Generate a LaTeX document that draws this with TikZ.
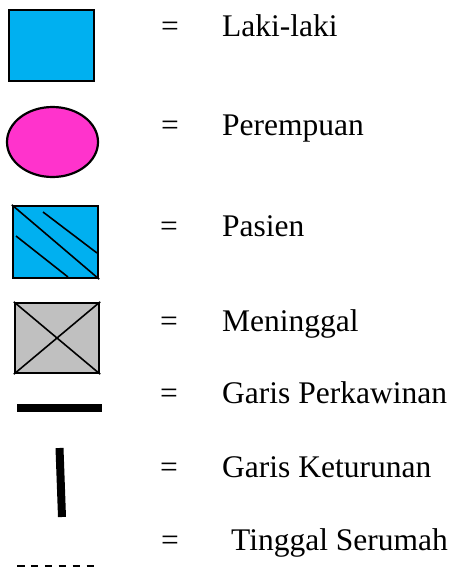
\documentclass[tikz,border=0pt]{standalone}
\usepackage{fontspec}
\setmainfont{Liberation Serif}
\usetikzlibrary{shapes.geometric}
\definecolor{maleblue}{HTML}{00B0F0}
\definecolor{femalepink}{HTML}{FF33CC}
\definecolor{deadgray}{HTML}{C0C0C0}
\tikzset{
  symbox/.style={draw=black, line width=2.4pt, rectangle, inner sep=0pt},
  eqsign/.style={anchor=base west, inner sep=0pt, font=\fontsize{31.5}{36}\selectfont},
  label/.style={anchor=base west, inner sep=0pt, font=\fontsize{31.5}{36}\selectfont},
  thinline/.style={line width=1.6pt},
}
\begin{document}
\begin{tikzpicture}[x=1pt,y=-1pt]
\useasboundingbox (0,0) rectangle (456,571);
% symbols
\node[symbox, fill=maleblue, minimum width=85pt, minimum height=71pt] (male) at (51.5,45.5) {};
\node[draw=black, line width=2.2pt, fill=femalepink, ellipse, inner sep=0pt, minimum width=91pt, minimum height=70pt] (female) at (52.5,142) {};
\node[symbox, fill=maleblue, minimum width=85pt, minimum height=72pt] (patient) at (55.5,242) {};
\draw[thinline] (patient.north west) -- (patient.south east);
\draw[thinline] (43,212) -- (97,253);
\draw[thinline] (16,236) -- (68,277);
\node[symbox, fill=deadgray, minimum width=84pt, minimum height=70pt] (dead) at (57,338) {};
\draw[thinline] (dead.north west) -- (dead.south east);
\draw[thinline] (dead.north east) -- (dead.south west);
\coordinate (m1) at (17,408);
\coordinate (m2) at (102,408);
\draw[line width=8pt] (m1) -- (m2);
\coordinate (d1) at (59.5,448);
\coordinate (d2) at (62,517);
\draw[line width=8pt] (d1) -- (d2);
\coordinate (s1) at (17,566);
\coordinate (s2) at (94,566);
\draw[line width=2.6pt, dash pattern=on 7.5pt off 6.4pt] (s1) -- (s2);
% equal signs
\node[eqsign] (e1) at (161,36) {=};
\node[eqsign] (e2) at (161,135) {=};
\node[eqsign] (e3) at (160,236) {=};
\node[eqsign] (e4) at (160,331) {=};
\node[eqsign] (e5) at (160,403) {=};
\node[eqsign] (e6) at (160,477) {=};
\node[eqsign] (e7) at (161,550) {=};
% labels
\node[label] (t1) at (222,36) {Laki-laki};
\node[label] (t2) at (222,135) {Perempuan};
\node[label] (t3) at (222,236) {Pasien};
\node[label] (t4) at (222,331) {Meninggal};
\node[label] (t5) at (222,403) {Garis Perkawinan};
\node[label] (t6) at (222,477) {Garis Keturunan};
\node[label] (t7) at (231,550) {Tinggal Serumah};
\end{tikzpicture}
\end{document}
